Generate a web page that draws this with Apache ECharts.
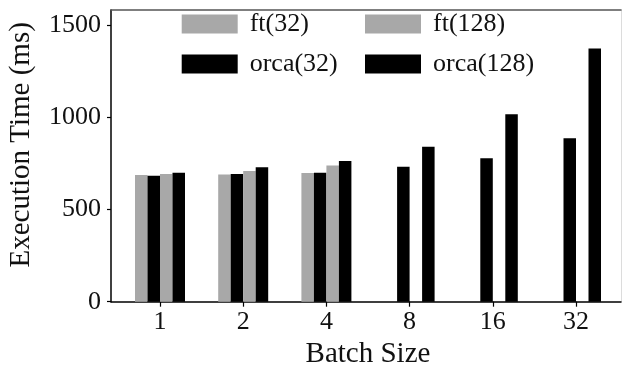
<!DOCTYPE html>
<html>
<head>
<meta charset="utf-8">
<script src="https://cdn.jsdelivr.net/npm/echarts@6/dist/echarts.min.js"></script>
<style>html,body{margin:0;padding:0;background:#fff}#c{width:623px;height:366px}</style>
</head>
<body>
<div id="c"></div>
<script>
const categories = ['1', '2', '4', '8', '16', '32'];
const ft32 = [687, 689, 698, null, null, null];
const orca32 = [683, 692, 699, 732, 777, 886];
const ft128 = [692, 709, 738, null, null, null];
const orca128 = [699, 729, 762, 840, 1016, 1372];
const yTicks = [0, 500, 1000, 1500];
const yMax = 1581;

const FONT = '"Liberation Serif", "DejaVu Serif", serif';
const GRAY = '#a8a8a8';
const BLACK = '#000000';

const chart = echarts.init(document.getElementById('c'), null, {renderer: 'canvas'});

function bar(name, data, color) {
  return {
    name: name, type: 'bar', xAxisIndex: 2, yAxisIndex: 2,
    data: data, barWidth: 12.5, barGap: '0%',
    itemStyle: {color: color}, emphasis: {disabled: true}, animation: false
  };
}

const legendCommon = {
  orient: 'vertical', itemWidth: 56, itemHeight: 19, itemGap: 14, top: 11, padding: 0,
  icon: 'rect', selectedMode: false,
  textStyle: {fontFamily: FONT, fontSize: 26, color: '#111', padding: [0, 0, 0, 7]}
};

chart.setOption({
  animation: false,
  backgroundColor: '#fff',
  grid: [
    {left: 111, right: 2, top: 10, bottom: 64.3, outerBoundsMode: 'none', containLabel: false},
    {left: 118.4, width: 499.2, top: 10, bottom: 64.3, outerBoundsMode: 'none', containLabel: false}
  ],
  legend: [
    Object.assign({}, legendCommon, {left: 181.7, data: ['ft(32)', 'orca(32)']}),
    Object.assign({}, legendCommon, {left: 365, data: ['ft(128)', 'orca(128)']})
  ],
  xAxis: [
    {gridIndex: 0, type: 'value', min: 0, max: 1, position: 'bottom',
     axisLine: {show: true, onZero: false, lineStyle: {color: '#000', width: 1.5}},
     axisTick: {show: false}, axisLabel: {show: false}, splitLine: {show: false}},
    {gridIndex: 0, type: 'value', min: 0, max: 1, position: 'top',
     axisLine: {show: true, onZero: false, lineStyle: {color: '#555', width: 1.5}},
     axisTick: {show: false}, axisLabel: {show: false}, splitLine: {show: false}},
    {gridIndex: 1, type: 'category', data: categories, position: 'bottom',
     axisLine: {show: false, onZero: false},
     axisTick: {show: true, alignWithLabel: true, length: 5, lineStyle: {color: '#000', width: 1.2}},
     axisLabel: {fontFamily: FONT, fontSize: 26, color: '#111', margin: 7},
     name: 'Batch Size', nameLocation: 'middle', nameGap: 38,
     nameTextStyle: {fontFamily: FONT, fontSize: 29, color: '#111'}}
  ],
  yAxis: [
    {gridIndex: 0, type: 'value', min: 0, max: yMax, position: 'left',
     axisLine: {show: true, onZero: false, lineStyle: {color: '#000', width: 1.5}},
     axisTick: {show: true, length: 4, customValues: yTicks, lineStyle: {color: '#000', width: 1.2}},
     axisLabel: {fontFamily: FONT, fontSize: 26, color: '#111', margin: 10, customValues: yTicks,
                 formatter: function (v) { return String(v); }},
     splitLine: {show: false},
     name: 'Execution Time (ms)', nameLocation: 'middle', nameGap: 75,
     nameTextStyle: {fontFamily: FONT, fontSize: 29, color: '#111', padding: [0, 0, 0, 22]}},
    {gridIndex: 0, type: 'value', min: 0, max: yMax, position: 'right',
     axisLine: {show: true, onZero: false, lineStyle: {color: '#dcdcdc', width: 1}},
     axisTick: {show: false}, axisLabel: {show: false}, splitLine: {show: false}},
    {gridIndex: 1, type: 'value', min: 0, max: yMax, show: false, splitLine: {show: false}}
  ],
  series: [
    bar('ft(32)', ft32, GRAY),
    bar('orca(32)', orca32, BLACK),
    bar('ft(128)', ft128, GRAY),
    bar('orca(128)', orca128, BLACK)
  ]
});
</script>
</body>
</html>
